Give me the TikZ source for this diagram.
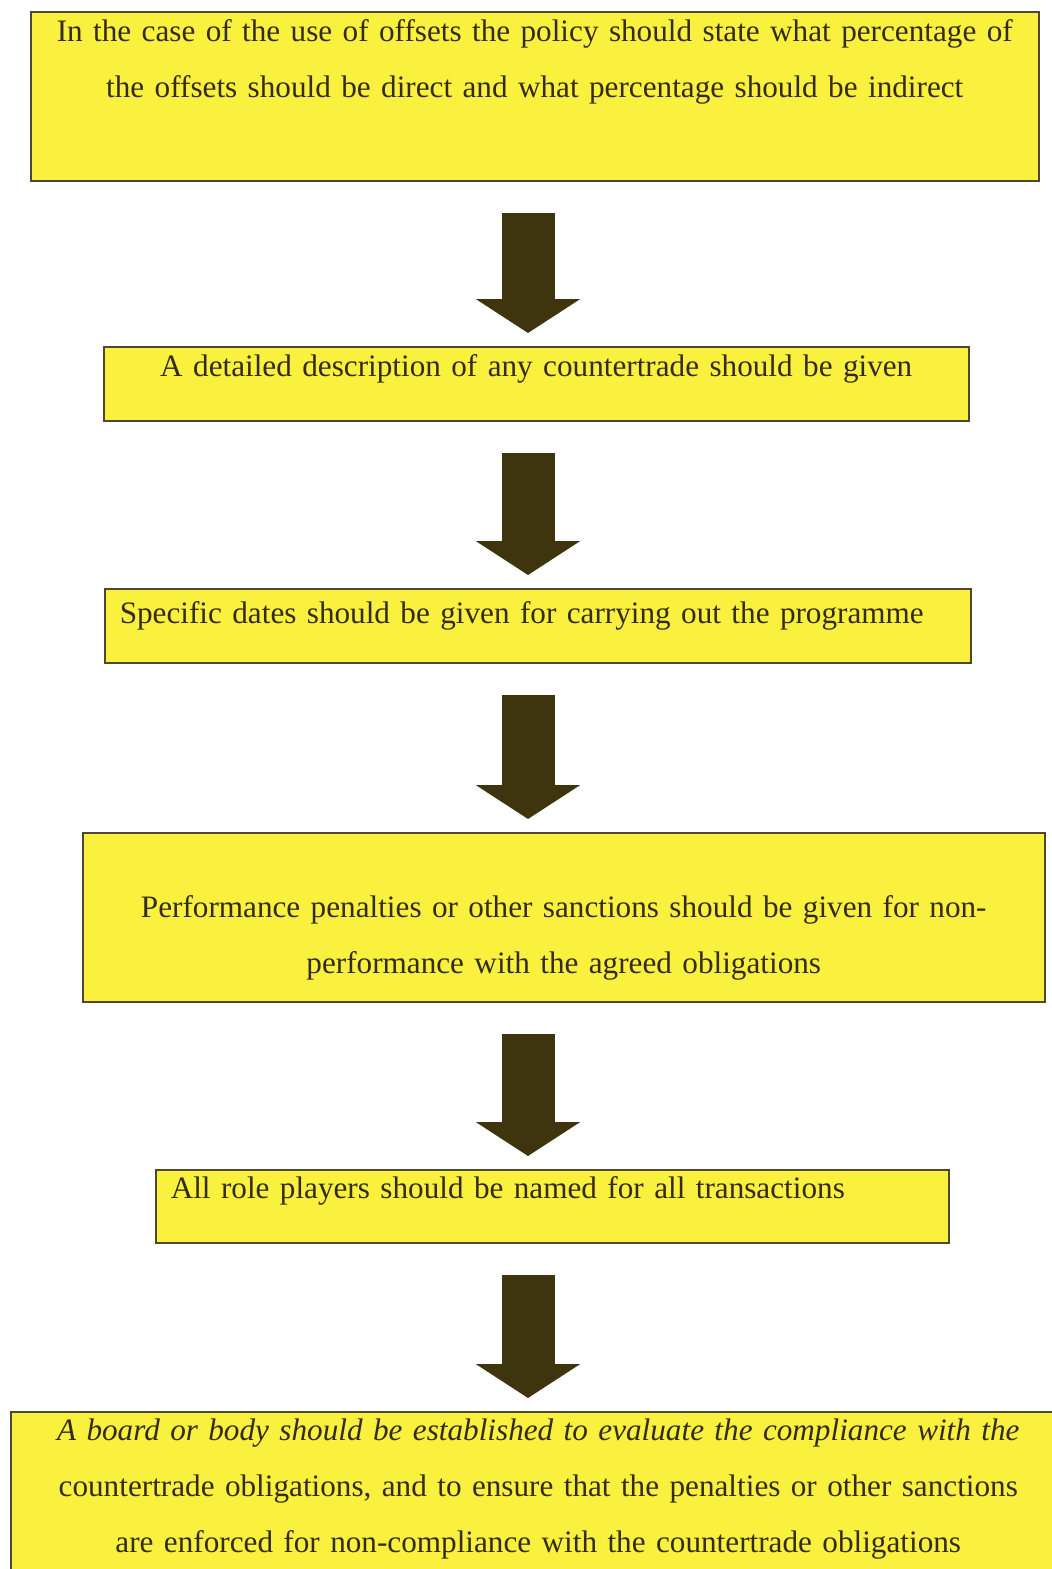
\documentclass[tikz,border=0pt]{standalone}
\usepackage{fontspec}
\setmainfont{Liberation Serif}
\usepackage{tikz}
\usetikzlibrary{arrows.meta}
\definecolor{boxyellow}{RGB}{250,240,62}
\definecolor{boxline}{RGB}{78,72,48}
\definecolor{arrowbrown}{RGB}{62,52,14}
\definecolor{inktext}{RGB}{52,44,26}

\begin{document}
\begin{tikzpicture}[x=1pt,y=1pt]
    \tikzstyle{every node}=[rectangle,draw=boxline,line width=1.5pt,fill=boxyellow,
      text=inktext,inner sep=0pt,anchor=north west,font=\fontsize{31.2}{56}\selectfont]
    \tikzstyle{midbox}=[align=center]
    \tikzstyle{leftbox}=[align=left,inner xsep=15pt]
    \tikzstyle{flow}=[draw=arrowbrown,line width=53pt,
      -{Triangle[length=34pt,width=103pt]},shorten <=31pt,shorten >=13pt]
    \useasboundingbox (0,0) rectangle (1052,-1569);
    \node[midbox,text width=1008pt,text height=30pt,text depth=139pt] (offsets) at (30,-11)
      {In the case of the use of offsets the policy should state what percentage of\\
       the offsets should be direct and what percentage should be indirect};
    \node[midbox,text width=865pt,text height=30pt,text depth=44pt] (description) at (103,-346)
      {A detailed description of any countertrade should be given};
    \node[leftbox,text width=836pt,text height=35pt,text depth=39pt] (dates) at (104,-588)
      {Specific dates should be given for carrying out the programme};
    \node[midbox,text width=962pt,text height=85pt,text depth=84pt] (penalties) at (82,-832)
      {Performance penalties or other sanctions should be given for non-\\
       performance with the agreed obligations};
    \node[leftbox,text width=763pt,text height=29pt,text depth=44pt] (players) at (155,-1169)
      {All role players should be named for all transactions};
    \node[midbox,text width=1055pt,text height=29pt,text depth=250pt] (board) at (10,-1411)
      {{\itshape A board or body should be established to evaluate the compliance with the}\\
       countertrade obligations, and to ensure that the penalties or other sanctions\\
       are enforced for non-compliance with the countertrade obligations};
    % arrows
    \coordinate (mid) at (528,0);
    \draw[flow] (mid |- offsets.south) -- (mid |- description.north);
    \draw[flow] (mid |- description.south) -- (mid |- dates.north);
    \draw[flow] (mid |- dates.south) -- (mid |- penalties.north);
    \draw[flow] (mid |- penalties.south) -- (mid |- players.north);
    \draw[flow] (mid |- players.south) -- (mid |- board.north);
\end{tikzpicture}
\end{document}
